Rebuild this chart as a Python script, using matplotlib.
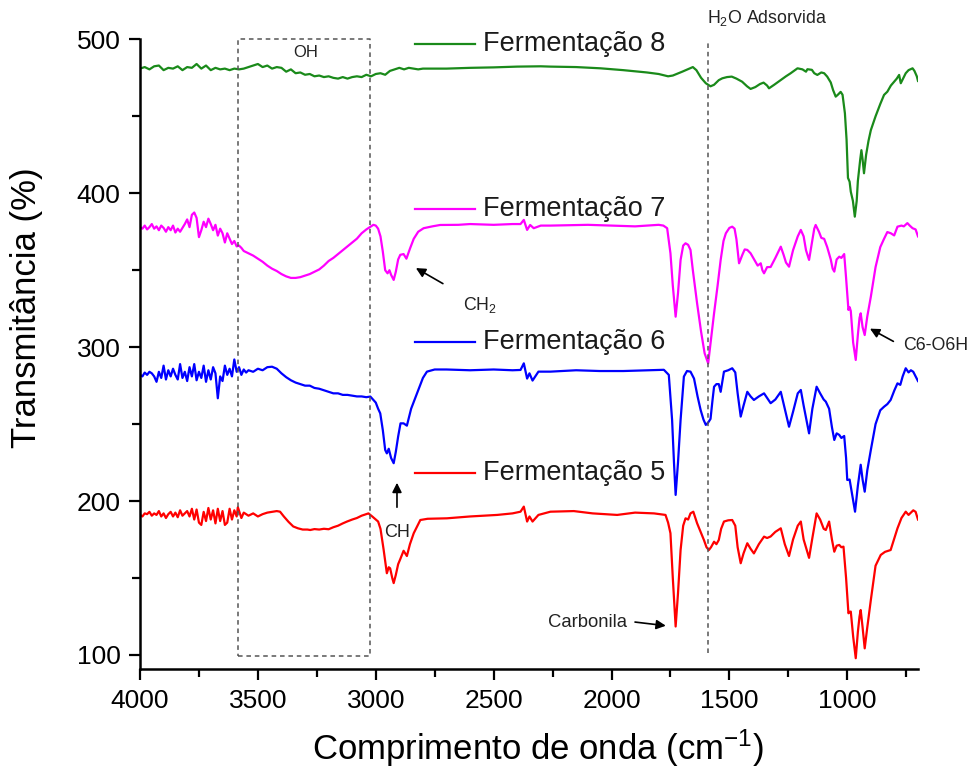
import matplotlib
matplotlib.use("Agg")
import matplotlib.pyplot as plt
from matplotlib.ticker import MultipleLocator

plt.rcParams['font.family'] = ['Liberation Sans', 'DejaVu Sans']
plt.rcParams['mathtext.fontset'] = 'custom'
plt.rcParams['mathtext.rm'] = 'Liberation Sans'
plt.rcParams['mathtext.it'] = 'Liberation Sans:italic'

# FTIR spectra (wavenumber in cm-1, transmittance offset per sample)
wn_f8 = [4000, 3980, 3960, 3940, 3920, 3900, 3880, 3860, 3840, 3820, 3800, 3780, 3760, 3740,
         3720, 3700, 3680, 3660, 3640, 3620, 3600, 3580, 3560, 3540, 3520, 3500, 3480, 3460,
         3440, 3420, 3400, 3380, 3360, 3340, 3320, 3300, 3280, 3260, 3240, 3220, 3200, 3180,
         3160, 3140, 3120, 3100, 3080, 3060, 3040, 3020, 3000, 2980, 2960, 2940, 2920, 2900,
         2880, 2860, 2840, 2820, 2800, 2700, 2600, 2500, 2400, 2300, 2259, 2150, 2047, 1950,
         1850, 1800, 1760, 1740, 1700, 1670, 1655, 1640, 1620, 1600, 1580, 1565, 1545, 1530,
         1510, 1490, 1470, 1446, 1425, 1410, 1390, 1370, 1355, 1340, 1332, 1310, 1282, 1260,
         1240, 1211, 1190, 1175, 1169, 1150, 1140, 1127, 1110, 1098, 1085, 1070, 1060, 1049,
         1040, 1028, 1020, 1010, 1003, 997, 990, 985, 976, 968, 960, 955, 950, 945, 940, 935,
         929, 920, 910, 900, 880, 860, 844, 830, 815, 801, 790, 780, 773, 765, 752, 740, 723,
         715, 705, 700]
t_f8 = [481, 482, 480.5, 482.5, 483, 480, 481.5, 481, 482.5, 480, 482, 481.5, 484, 481,
        483, 480, 481.5, 480.5, 481, 480, 481, 480.5, 481, 482, 483, 484, 482, 483,
        481, 482, 481.5, 479, 480.5, 478, 478.5, 477, 477.5, 476, 476.5, 475.5, 476, 475,
        474.5, 475.5, 474.5, 475.5, 476, 475.5, 477, 476, 477.5, 478, 477, 479.5, 480.5, 481.5,
        480.5, 481.5, 481, 480.5, 481, 481, 481.5, 481.8, 482.3, 482.5, 482.3, 482, 481.2, 480,
        478.5, 477.5, 476, 476.5, 479, 481, 482, 480, 475, 471.5, 469.5, 470.5, 473.5, 474.7,
        475.5, 475.8, 474.5, 472.5, 469.5, 467.8, 469, 471, 471.9, 470, 468.2, 470.5, 473.6, 476,
        478, 481.2, 480.5, 479, 480.6, 480.2, 478, 476.9, 478.5, 478, 475.8, 472, 467, 462.8,
        464, 465.9, 464, 452, 435, 410, 407.5, 401, 395, 384.8, 395, 408, 415.1, 422, 428, 422,
        413, 425, 434, 441, 450, 458, 463.9, 466, 470, 472.5, 474.5, 476.9, 471.5, 474, 478, 480, 481.2,
        479.5, 476, 473]

wn_f7 = [4000, 3990, 3980, 3970, 3960, 3950, 3940, 3930, 3920, 3910, 3900, 3890, 3880, 3870,
         3860, 3850, 3840, 3830, 3820, 3810, 3800, 3790, 3780, 3770, 3760, 3750, 3740, 3730,
         3720, 3710, 3700, 3690, 3680, 3670, 3660, 3650, 3640, 3630, 3620, 3610, 3600, 3590,
         3580, 3570, 3560, 3540, 3520, 3500, 3480, 3460, 3440, 3420, 3400, 3380, 3360, 3340,
         3320, 3300, 3280, 3260, 3240, 3220, 3200, 3180, 3160, 3140, 3120, 3100, 3080, 3060,
         3040, 3020, 3010, 3000, 2990, 2980, 2970, 2960, 2950, 2942, 2935, 2924, 2915, 2905,
         2896, 2882, 2870, 2855, 2839, 2820, 2797, 2760, 2727, 2650, 2600, 2500, 2420, 2386,
         2372, 2358, 2345, 2330, 2300, 2259, 2100, 2000, 1900, 1800, 1780, 1764, 1750, 1740,
         1728, 1718, 1707, 1696, 1686, 1675, 1665, 1655, 1645, 1637, 1620, 1605, 1590, 1578,
         1565, 1550, 1537, 1525, 1515, 1500, 1488, 1478, 1470, 1459, 1445, 1435, 1424, 1410,
         1395, 1380, 1367, 1360, 1353, 1340, 1325, 1305, 1282, 1270, 1260, 1247, 1230, 1210,
         1197, 1185, 1175, 1162, 1150, 1140, 1134, 1120, 1110, 1098, 1085, 1070, 1062, 1055,
         1045, 1034, 1025, 1013, 1005, 995, 990, 985, 975, 964, 955, 948, 943, 935, 926, 915,
         900, 880, 860, 844, 830, 815, 801, 787, 770, 760, 745, 735, 723, 710, 700]
t_f7 = [378, 377, 379, 376.5, 378, 380, 377, 378.5, 376, 379, 377.5, 375, 378, 376,
        379, 374.5, 377, 375, 377.5, 380, 383, 378, 386, 387.5, 384, 371.5, 376, 381.5,
        378, 383.5, 380, 376, 379.5, 372.5, 377, 374, 368, 374, 370.5, 367, 369, 365.5,
        366, 364.5, 362.5, 361, 359.5, 357.5, 355.5, 353, 351, 349.5, 347.5, 346, 345, 345,
        345.5, 346.5, 347.5, 349, 350.5, 353, 356, 358, 360.5, 363, 365.5, 368, 370.5, 374,
        376.5, 378.5, 379.5, 379, 377, 372, 362, 350, 348, 350, 347, 343.7, 349, 357,
        360, 360.5, 357.5, 364, 370.4, 375, 377.3, 378.5, 379.4, 379.5, 380, 379.5, 380, 380,
        382.7, 376.2, 379.4, 377.3, 379, 379, 379.5, 379, 378.5, 379.5, 379, 377.3, 361, 340,
        319.8, 335, 356.7, 366, 367.5, 366.5, 363.2, 350, 338, 328.5, 310, 296, 289.5, 305,
        322, 340, 356.7, 369, 374, 377.5, 378.3, 377, 370, 354.5, 360, 363.5, 363.2, 361,
        357, 353, 354.5, 350, 348, 352, 352.1, 358, 365.3, 360, 355, 352.3, 363, 372,
        376.2, 372, 363, 356.7, 368, 377, 379.4, 375, 371, 370.4, 365, 357, 351, 349.1,
        357, 358.8, 358, 360.5, 345, 324.2, 326, 323.5, 303, 291.7, 308, 319, 322, 313, 307.9, 320,
        332.8, 352, 365, 370.4, 374.8, 374, 372.6, 378.3, 379, 378.5, 380.6, 379, 377.3, 376.5, 372]

wn_f6 = [4000, 3990, 3980, 3970, 3960, 3950, 3940, 3930, 3920, 3910, 3900, 3890, 3880, 3870,
         3860, 3850, 3840, 3830, 3820, 3810, 3800, 3790, 3780, 3770, 3760, 3750, 3740, 3730,
         3720, 3710, 3700, 3690, 3680, 3670, 3660, 3650, 3640, 3630, 3620, 3610, 3600, 3590,
         3580, 3570, 3560, 3550, 3540, 3520, 3500, 3480, 3460, 3440, 3420, 3400, 3380, 3360,
         3340, 3320, 3300, 3280, 3260, 3240, 3220, 3200, 3180, 3160, 3140, 3120, 3100, 3080,
         3060, 3040, 3023, 3000, 2990, 2981, 2970, 2960, 2953, 2945, 2935, 2924, 2915, 2905,
         2895, 2882, 2868, 2850, 2825, 2800, 2783, 2750, 2700, 2600, 2500, 2420, 2386, 2372,
         2358, 2348, 2335, 2310, 2259, 2150, 2050, 1950, 1850, 1778, 1757, 1743, 1735, 1728,
         1718, 1707, 1693, 1680, 1665, 1650, 1635, 1622, 1610, 1600, 1590, 1580, 1572, 1565,
         1555, 1545, 1537, 1523, 1505, 1488, 1475, 1465, 1452, 1440, 1424, 1410, 1396, 1375,
         1353, 1340, 1325, 1305, 1282, 1265, 1247, 1230, 1210, 1197, 1185, 1162, 1148, 1130,
         1115, 1100, 1091, 1077, 1065, 1055, 1045, 1034, 1025, 1013, 1005, 1000, 990, 980,
         967, 955, 943, 935, 926, 915, 900, 880, 860, 844, 830, 816, 800, 787, 775, 765,
         752, 740, 730, 720, 710, 700]
t_f6 = [282, 281, 283.5, 282, 284, 283, 281, 277.5, 284, 280, 288, 279, 285, 281,
        286, 282, 279, 289, 280, 284, 278, 287, 281, 289, 278.5, 284, 280, 288,
        277.5, 285, 279, 287, 283, 266.8, 281, 278, 288, 282, 286, 281, 292, 284,
        287, 282, 285.5, 283.5, 285, 284, 286, 285, 287, 287.3, 286, 283, 280.5, 278.5,
        277, 276, 275, 275, 273.5, 273, 272, 271, 270, 270, 269, 269, 268.5, 268,
        268, 267.5, 267.9, 264, 260, 257, 246, 233.2, 231, 234, 228, 224.6, 232, 242,
        250.5, 250.5, 249, 260, 270, 280, 284.1, 285.5, 285.5, 285, 285.5, 285, 285.2, 289.5,
        279.6, 283, 278.3, 284.1, 284.1, 285, 284.5, 284.5, 285, 285.3, 282, 252.7, 225, 204,
        225, 252.7, 280.9, 284.5, 284.1, 279.6, 268, 259.2, 253, 249.5, 251, 253.4, 265, 274.3,
        276, 276, 271, 284.1, 285, 286.3, 283.6, 270, 254.9, 262, 271, 268, 265.7, 268,
        270, 267, 263.6, 266, 271, 260, 248.3, 258, 270, 272.2, 262, 244, 260, 274.3,
        270, 266, 264.6, 260, 248, 239.7, 244, 243, 241, 242.3, 228, 213.7, 214, 205,
        193.1, 210, 223.6, 214, 206.1, 220, 233.2, 250, 259, 261.3, 263, 265.7, 272, 276.5, 275.5, 281,
        286.3, 283.6, 285, 284, 281, 278]

wn_f5 = [4000, 3990, 3980, 3970, 3960, 3950, 3940, 3930, 3920, 3910, 3900, 3890, 3880, 3870,
         3860, 3850, 3840, 3830, 3820, 3810, 3800, 3790, 3780, 3770, 3760, 3750, 3740, 3730,
         3720, 3710, 3700, 3690, 3680, 3670, 3660, 3650, 3640, 3630, 3620, 3610, 3600, 3590,
         3585, 3570, 3560, 3540, 3520, 3500, 3480, 3460, 3440, 3420, 3406, 3390, 3370, 3350,
         3330, 3310, 3290, 3278, 3260, 3240, 3220, 3200, 3180, 3160, 3140, 3122, 3100, 3080,
         3060, 3040, 3031, 3015, 3000, 2990, 2980, 2967, 2953, 2945, 2939, 2930, 2924, 2915,
         2905, 2896, 2882, 2868, 2855, 2839, 2811, 2780, 2698, 2600, 2485, 2420, 2386, 2372,
         2358, 2348, 2335, 2310, 2259, 2160, 2080, 1976, 1900, 1820, 1771, 1760, 1750, 1740,
         1728, 1718, 1707, 1696, 1686, 1675, 1665, 1653, 1637, 1622, 1608, 1597, 1587, 1578,
         1565, 1555, 1545, 1535, 1523, 1505, 1488, 1475, 1465, 1452, 1440, 1424, 1410, 1396,
         1375, 1353, 1340, 1325, 1305, 1282, 1265, 1247, 1230, 1210, 1197, 1185, 1162, 1148,
         1130, 1115, 1100, 1091, 1077, 1065, 1055, 1045, 1034, 1025, 1016, 1005, 995, 990,
         985, 975, 964, 955, 948, 943, 935, 926, 915, 900, 880, 858, 840, 816, 800, 787,
         770, 752, 740, 730, 720, 710, 700]
t_f5 = [191, 190, 192, 191.5, 193, 190.5, 192, 191, 193.5, 190, 192, 189, 191.5, 193,
        190, 192.5, 189.5, 194, 190.5, 192, 193.5, 190, 195, 188, 194.5, 186, 184.5, 193,
        187, 195.5, 188, 194, 185.5, 195, 187, 193.5, 184.5, 186, 195, 188, 194, 190,
        196, 189, 192.5, 190.5, 192, 190, 191.5, 192.5, 193, 193.5, 193.1, 190, 186.5, 183.5,
        182.3, 181.5, 181.5, 181.2, 181.8, 181.5, 182, 181.7, 183, 184, 185.5, 186.7, 188, 189,
        190.5, 191.5, 192, 190, 188, 186.7, 182, 168.8, 153.1, 157, 156.3, 150, 146.7, 152,
        159, 162.3, 167.7, 164.3, 172, 179.1, 187.7, 188.5, 188.8, 190, 191, 192, 193.1, 196.4,
        186.7, 190, 186.7, 191, 193.1, 193.5, 192, 191, 192.5, 192, 191, 186, 179.1, 150,
        118.5, 140, 168.2, 184, 188.8, 188, 192, 193.1, 185.6, 180, 174.7, 170, 168.2, 170,
        173.6, 172, 174.7, 182, 186.7, 187.5, 187.7, 184, 170, 159.6, 166, 172.6, 169, 166,
        172, 176.9, 176, 177, 180, 182.3, 172, 164.3, 175, 184, 186.7, 175, 163.1, 176,
        192, 188, 182, 181.2, 186.7, 175, 167.1, 171, 171.5, 170, 170.4, 150, 127.1, 128,
        128.2, 112, 97.9, 115, 125, 129.2, 118, 104.3, 118, 135.7, 158, 165, 167, 168.2, 176, 182.3,
        189, 193.1, 191, 192.5, 194, 193, 188]

labels = ['Fermentação 8', 'Fermentação 7', 'Fermentação 6', 'Fermentação 5']
colors = ['#1a8a1a', '#ff00ff', '#0000ff', '#ff0000']
legend_y = [497, 389.8, 303.6, 218]

# OH band region and adsorbed water marker
oh_box_x = [3585, 3026]
oh_box_y = [99.4, 500.3]
h2o_x = 1590
h2o_y = [101, 498.5]

fig = plt.figure(figsize=(9.71, 7.75), dpi=100)
ax = fig.add_axes([0.1442, 0.1364, 0.8012, 0.8128])

series = [(wn_f8, t_f8), (wn_f7, t_f7), (wn_f6, t_f6), (wn_f5, t_f5)]
for (wn, t), c in zip(series, colors):
    ax.plot(wn, t, color=c, lw=1.6, solid_joinstyle='round')

# in-plot legend entries next to each curve
for lab, c, y in zip(labels, colors, legend_y):
    ax.plot([2832, 2578], [y, y], color=c, lw=1.6)
    ax.text(2544, y, lab, fontsize=19.5, va='center', ha='left', color='#1a1a1a')

box_kw = dict(color='#555555', lw=1.1, linestyle=(0, (3, 2.5)))
x0, x1 = oh_box_x
y0, y1 = oh_box_y
ax.plot([x0, x1, x1, x0, x0], [y0, y0, y1, y1, y0], clip_on=False, **box_kw)
ax.plot([h2o_x, h2o_x], h2o_y, **box_kw)

ax.text(3299, 491.2, 'OH', fontsize=12, ha='center', va='center', color='#222222')
ax.text(1597, 514, r'H$_2$O Adsorvida', fontsize=12.8, ha='left', va='center',
        color='#222222', clip_on=False)

# band assignments
arrow = dict(arrowstyle='-|>', color='black', lw=1.2, mutation_scale=14)
ax.annotate('', xy=(2840, 352.3), xytext=(2705, 340.4), arrowprops=arrow)
ax.text(2556, 327.4, r'CH$_2$', fontsize=12.8, ha='center', va='center', color='#222222')
ax.annotate('', xy=(2910, 213.7), xytext=(2910, 194.2), arrowprops=arrow)
ax.text(2910, 179.5, 'CH', fontsize=13, ha='center', va='center', color='#222222')
ax.annotate('', xy=(1758, 118.8), xytext=(1912, 121.6), arrowprops=arrow)
ax.text(2103, 121, 'Carbonila', fontsize=13.3, ha='center', va='center', color='#222222')
ax.annotate('', xy=(914, 312.9), xytext=(794, 302.9), arrowprops=arrow)
ax.text(761, 301.4, 'C6-O6H', fontsize=12.8, ha='left', va='center', color='#222222',
        clip_on=False)

ax.set_xlim(4000, 700)
ax.set_ylim(90.7, 500)
ax.xaxis.set_major_locator(MultipleLocator(500))
ax.xaxis.set_minor_locator(MultipleLocator(250))
ax.yaxis.set_major_locator(MultipleLocator(100))
ax.yaxis.set_minor_locator(MultipleLocator(50))

for side in ['top', 'right']:
    ax.spines[side].set_visible(False)
for side in ['left', 'bottom']:
    ax.spines[side].set_linewidth(1.8)
ax.tick_params(which='major', direction='out', length=8, width=1.6, labelsize=19, pad=6)
ax.tick_params(which='minor', direction='out', length=6, width=1.6)

ax.set_xlabel(r'Comprimento de onda (cm$^{-1}$)', fontsize=25)
ax.set_ylabel('Transmitância (%)', fontsize=25)
ax.xaxis.set_label_coords(0.512, -0.093)
ax.yaxis.set_label_coords(-0.125, 0.574)
ax.xaxis.label.set_va('top')

fig.savefig('out.png', dpi=100)
